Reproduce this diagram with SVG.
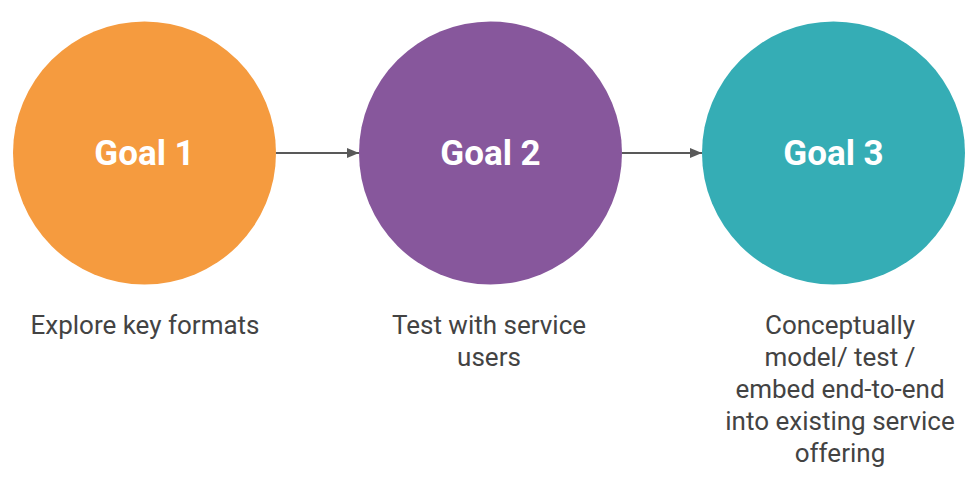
<svg xmlns="http://www.w3.org/2000/svg" width="978" height="477" viewBox="0 0 978 477">
<defs>
<marker id="ah" markerWidth="12" markerHeight="10" refX="12" refY="5" orient="auto" markerUnits="userSpaceOnUse"><path d="M0,0 L12,5 L0,10 Z" fill="#595959"/></marker>
</defs>
<style>
.g{font-family:Roboto,"Liberation Sans",sans-serif;font-weight:bold;font-size:35px;fill:#fff;text-anchor:middle}
.d{font-family:Roboto,"Liberation Sans",sans-serif;font-size:26px;fill:#434343;text-anchor:middle}
.c{stroke:#595959;stroke-width:2;fill:none}
</style>
<rect width="978" height="477" fill="#fff"/>
<g id="connectors">
<line class="c" x1="276" y1="153" x2="359" y2="153" marker-end="url(#ah)"/>
<line class="c" x1="622" y1="153" x2="702" y2="153" marker-end="url(#ah)"/>
</g>
<g id="goal1">
<circle cx="144.5" cy="153" r="131.5" fill="#F59B3F"/>
<text class="g" x="144.5" y="165">Goal 1</text>
<text class="d" x="145" y="334">Explore key formats</text>
</g>
<g id="goal2">
<circle cx="490.5" cy="153" r="131.5" fill="#87579C"/>
<text class="g" x="490.5" y="165">Goal 2</text>
<text class="d" x="489" y="334">Test with service</text>
<text class="d" x="489" y="366">users</text>
</g>
<g id="goal3">
<circle cx="833.5" cy="153" r="131.5" fill="#35ADB5"/>
<text class="g" x="833.5" y="165">Goal 3</text>
<text class="d" x="840" y="334">Conceptually</text>
<text class="d" x="840" y="366">model/ test /</text>
<text class="d" x="840" y="398">embed end-to-end</text>
<text class="d" x="840" y="430">into existing service</text>
<text class="d" x="840" y="462">offering</text>
</g>
</svg>
